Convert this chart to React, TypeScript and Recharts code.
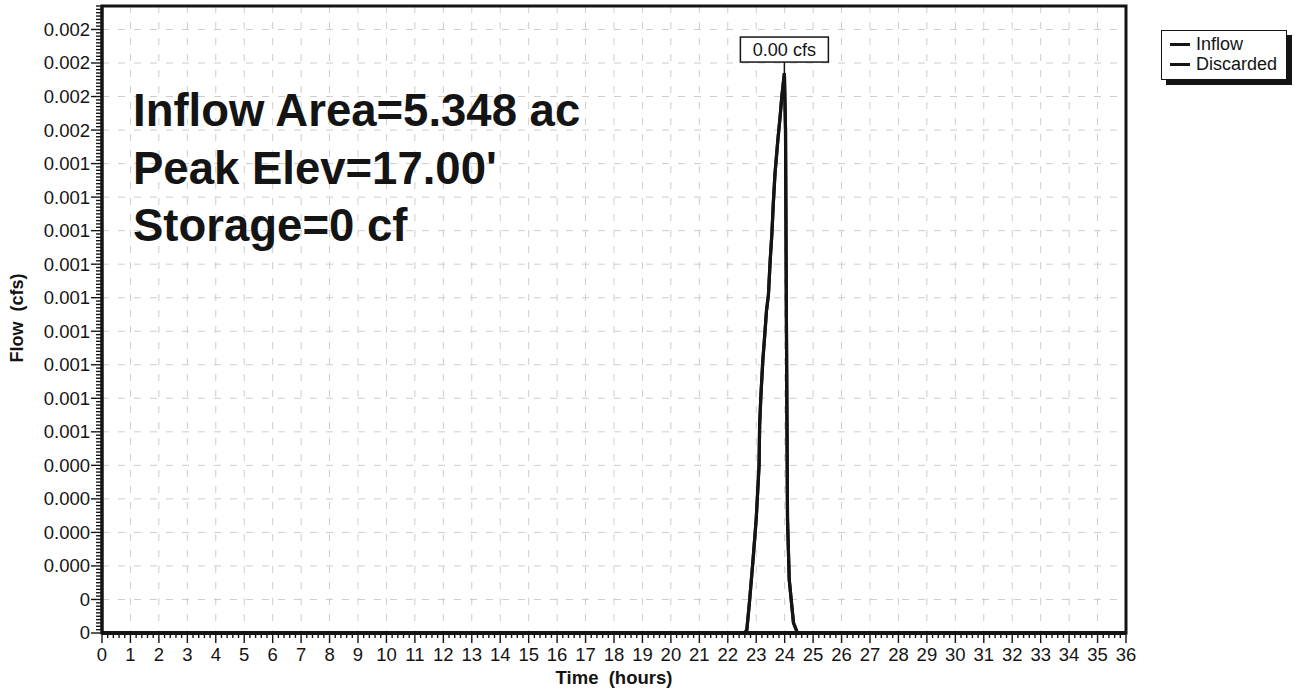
import {
  LineChart,
  Line,
  XAxis,
  YAxis,
  CartesianGrid,
  ReferenceArea,
  ReferenceDot,
} from "recharts";

// ─── Hydrograph data (hours / cfs) ───────────────────────
const HOURS = [
  0, 22.6, 22.67, 22.76, 22.88, 23.0, 23.1, 23.12, 23.16, 23.23, 23.31, 23.36,
  23.43, 23.49, 23.55, 23.6, 23.66, 23.76, 23.84, 23.9, 23.99, 24.03, 24.06,
  24.1, 24.16, 24.31, 24.45, 36,
];
const INFLOW = [
  0, 0, 0.00001, 0.00009, 0.00021, 0.00034, 0.0005, 0.00062, 0.0007, 0.00081,
  0.0009, 0.00096, 0.00101, 0.00111, 0.00119, 0.00128, 0.00137, 0.00147,
  0.00154, 0.0016, 0.00167, 0.0015, 0.00095, 0.00034, 0.00016, 0.00003, 0, 0,
];
// the pond stores nothing, so everything that comes in is discarded
const DISCARDED = INFLOW;

// ─── Axes ────────────────────────────────────────────────
const HOUR_LABELS = [
  "0", "1", "2", "3", "4", "5", "6", "7", "8", "9", "10", "11", "12",
  "13", "14", "15", "16", "17", "18", "19", "20", "21", "22", "23", "24",
  "25", "26", "27", "28", "29", "30", "31", "32", "33", "34", "35", "36",
];
const FLOW_LABELS = [
  "0", "0", "0.000", "0.000", "0.000", "0.000",
  "0.001", "0.001", "0.001", "0.001", "0.001", "0.001", "0.001", "0.001", "0.001",
  "0.002", "0.002", "0.002", "0.002",
];
const FLOW_STEP = 0.0001;
const FLOW_MAX = 0.00187;
const X_MINOR = 5; // minor ticks per hour
const Y_MINOR = 10; // minor ticks per flow step

const NOTES = ["Inflow Area=5.348 ac", "Peak Elev=17.00'", "Storage=0 cf"];

const data = HOURS.map((h, i) => ({
  hour: h,
  inflow: INFLOW[i],
  discarded: DISCARDED[i],
}));

const xTicks: number[] = [];
for (let i = 0; i <= (HOUR_LABELS.length - 1) * X_MINOR; i++) xTicks.push(i / X_MINOR);
const yTicks: number[] = [];
for (let i = 0; i * (FLOW_STEP / Y_MINOR) <= FLOW_MAX + 1e-12; i++)
  yTicks.push((i * FLOW_STEP) / Y_MINOR);
const hourGrid = HOUR_LABELS.map((_, i) => i);
const flowGrid = FLOW_LABELS.map((_, i) => i * FLOW_STEP);

const peakIdx = INFLOW.indexOf(Math.max(...INFLOW));

const FONT = "'Liberation Sans', Arial, Helvetica, sans-serif";
const INK = "#141414";

function HourTick({ x, y, index }: any) {
  const major = index % X_MINOR === 0;
  return (
    <g>
      <line x1={x} x2={x} y1={y} y2={y + (major ? 10 : 5)} stroke={INK} strokeWidth={1.4} />
      {major && (
        <text x={x} y={y + 28} textAnchor="middle" fontSize={18.5} fill={INK} fontFamily={FONT}>
          {HOUR_LABELS[index / X_MINOR]}
        </text>
      )}
    </g>
  );
}

function FlowTick({ x, y, index }: any) {
  const major = index % Y_MINOR === 0;
  return (
    <g>
      <line x1={x - (major ? 11 : 6)} x2={x} y1={y} y2={y} stroke={INK} strokeWidth={1.4} />
      {major && (
        <text x={x - 12} y={y} dy="0.35em" textAnchor="end" fontSize={18.5} fill={INK} fontFamily={FONT}>
          {FLOW_LABELS[index / Y_MINOR]}
        </text>
      )}
    </g>
  );
}

function PeakLabel({ cx, cy }: any) {
  const w = 88;
  const h = 25;
  const top = cy - 36;
  return (
    <g>
      <line x1={cx} x2={cx} y1={top + h} y2={cy} stroke={INK} strokeWidth={1.5} />
      <rect x={cx - w / 2} y={top} width={w} height={h} fill="#fff" stroke={INK} strokeWidth={1.5} />
      <text x={cx} y={top + h / 2} dy="0.35em" textAnchor="middle" fontSize={18} fill={INK} fontFamily={FONT}>
        {INFLOW[peakIdx].toFixed(2)} cfs
      </text>
    </g>
  );
}

export default function App() {
  return (
    <div style={{ position: "absolute", left: 0, top: 0, width: 1298, height: 689, background: "#fff", fontFamily: FONT }}>
      <LineChart
        width={1298}
        height={689}
        data={data}
        margin={{ top: 6, right: 172, bottom: 0, left: 0 }}
      >
        <CartesianGrid
          stroke="#cdcdcd"
          strokeDasharray="7 9"
          horizontalValues={flowGrid}
          verticalValues={hourGrid}
        />
        <XAxis
          dataKey="hour"
          type="number"
          domain={[0, 36]}
          ticks={xTicks}
          interval={0}
          height={56}
          tickSize={0}
          tickMargin={0}
          tick={<HourTick />}
          axisLine={{ stroke: INK, strokeWidth: 4 }}
          tickLine={false}
        />
        <YAxis
          type="number"
          domain={[0, FLOW_MAX]}
          ticks={yTicks}
          interval={0}
          width={102}
          tickSize={0}
          tickMargin={0}
          tick={<FlowTick />}
          axisLine={{ stroke: INK, strokeWidth: 3 }}
          tickLine={false}
        />
        <ReferenceArea
          x1={0}
          x2={36}
          y1={0}
          y2={FLOW_MAX}
          fill="none"
          stroke={INK}
          strokeWidth={3}
        />
        <Line
          dataKey="inflow"
          type="linear"
          stroke={INK}
          strokeWidth={3.2}
          dot={false}
          isAnimationActive={false}
        />
        <Line
          dataKey="discarded"
          type="linear"
          stroke={INK}
          strokeWidth={3.2}
          dot={false}
          isAnimationActive={false}
        />
        <ReferenceDot
          x={HOURS[peakIdx]}
          y={INFLOW[peakIdx]}
          r={2}
          shape={<PeakLabel />}
        />
      </LineChart>

      {/* Titles and notes */}
      <svg
        width={1298}
        height={689}
        style={{ position: "absolute", left: 0, top: 0, pointerEvents: "none" }}
      >
        {NOTES.map((t, i) => (
          <text
            key={t}
            x={133}
            y={126 + i * 57.5}
            fontSize={45.5}
            fontWeight="bold"
            fill={INK}
            fontFamily={FONT}
          >
            {t}
          </text>
        ))}
        <text
          x={614}
          y={684}
          textAnchor="middle"
          fontSize={18.5}
          fontWeight="bold"
          fill={INK}
          fontFamily={FONT}
          style={{ whiteSpace: "pre" }}
        >
          {"Time  (hours)"}
        </text>
        <text
          transform="translate(23 318) rotate(-90)"
          textAnchor="middle"
          fontSize={18}
          fontWeight="bold"
          fill={INK}
          fontFamily={FONT}
          style={{ whiteSpace: "pre" }}
        >
          {"Flow  (cfs)"}
        </text>
      </svg>

      {/* Legend */}
      <div
        style={{
          position: "absolute",
          left: 1161,
          top: 30,
          width: 126,
          height: 50,
          border: `1.5px solid ${INK}`,
          boxShadow: `5px 5px 0 ${INK}`,
          background: "#fff",
          padding: "3px 0 0 8px",
          boxSizing: "border-box",
        }}
      >
        {["Inflow", "Discarded"].map((name) => (
          <div
            key={name}
            style={{ display: "flex", alignItems: "center", height: 20, fontSize: 18, color: INK }}
          >
            <span style={{ display: "inline-block", width: 20, height: 3, background: INK, marginRight: 6 }} />
            {name}
          </div>
        ))}
      </div>
    </div>
  );
}
